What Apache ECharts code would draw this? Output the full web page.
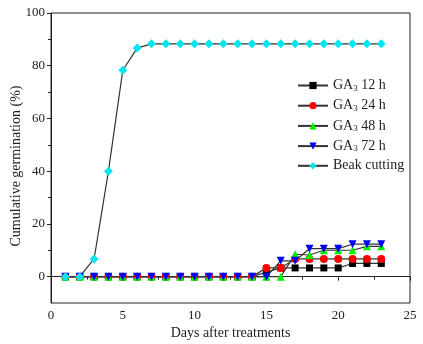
<!DOCTYPE html>
<html><head><meta charset="utf-8">
<script src="https://cdn.jsdelivr.net/npm/echarts@6/dist/echarts.min.js"></script>
<style>html,body{margin:0;padding:0;background:#fff}#c{width:423px;height:344px}</style>
</head><body><div id="c"></div>
<script>
const days = [1,2,3,4,5,6,7,8,9,10,11,12,13,14,15,16,17,18,19,20,21,22,23];
const ga12 = [0,0,0,0,0,0,0,0,0,0,0,0,0,0,1.7,3.3,3.3,3.3,3.3,3.3,5,5,5];
const ga24 = [0,0,0,0,0,0,0,0,0,0,0,0,0,0,3.3,3.3,6.7,6.7,6.7,6.7,6.7,6.7,6.7];
const ga48 = [0,0,0,0,0,0,0,0,0,0,0,0,0,0,0,0,8.5,8.2,10,10,10,11.5,11.5];
const ga72 = [0,0,0,0,0,0,0,0,0,0,0,0,0,0,0,6,6,10.6,10.6,10.6,12.3,12.3,12.3];
const beak = [0,0,6.7,40,78.3,86.7,88.3,88.3,88.3,88.3,88.3,88.3,88.3,88.3,88.3,88.3,88.3,88.3,88.3,88.3,88.3,88.3,88.3];
const seriesNames = ['GA3 12 h','GA3 24 h','GA3 48 h','GA3 72 h','Beak cutting'];
const yMajor = [0,20,40,60,80,100];
const yMinor = [10,30,50,70,90];

const font = 'Liberation Serif';
function pts(arr){ return days.map((d,i)=>[d,arr[i]]); }
function mk(name, arr, symbol, color, size, rotate){
  return {name, type:'line', data:pts(arr), symbol, symbolSize:size, symbolRotate:rotate||0,
    showSymbol:true, lineStyle:{color:'#333', width:1.2}, itemStyle:{color, borderWidth:0},
    emphasis:{disabled:true}, z:2};
}
const chart = echarts.init(document.getElementById('c'), null, {renderer:'canvas'});
chart.setOption({
  animation:false,
  backgroundColor:'#fff',
  grid:{left:51,right:13,top:13,bottom:41,outerBoundsMode:'none',containLabel:false,show:true,borderColor:'#222',borderWidth:1,backgroundColor:'transparent'},
  legend:{
    orient:'vertical', left:297, top:78, padding:0, itemWidth:30, itemHeight:9, itemGap:5.2,
    data:seriesNames,
    formatter:function(n){ if(n.indexOf('GA3')===0){ return 'GA{s|3}' + n.slice(3);} return n; },
    textStyle:{fontFamily:font, fontSize:14, lineHeight:14, color:'#222', rich:{s:{fontFamily:font,fontSize:9,lineHeight:14,color:'#222',padding:[6,0,0,0]}}}
  },
  xAxis:{type:'value', min:0, max:25, interval:5,
    name:'Days after treatments', nameLocation:'middle', nameGap:23, nameMoveOverlap:false,
    nameTextStyle:{fontFamily:font, fontSize:14, color:'#222'},
    axisLine:{lineStyle:{color:'#222'}}, axisTick:{inside:false,length:4,lineStyle:{color:'#222'}},
    minorTick:{show:true,splitNumber:2,length:3,lineStyle:{color:'#222'}},
    axisLabel:{fontFamily:font,fontSize:13,color:'#222',margin:6}, splitLine:{show:false}},
  yAxis:[{type:'value', min:-10, max:100, interval:10,
    name:'Cumulative germination (%)', nameLocation:'middle', nameGap:28, nameMoveOverlap:false,
    nameTextStyle:{fontFamily:font, fontSize:14, color:'#222', padding:[0,0,0,-16]},
    axisLine:{show:true,lineStyle:{color:'#222'}},
    axisTick:{show:true,length:4,customValues:yMajor,lineStyle:{color:'#222'}},
    axisLabel:{fontFamily:font,fontSize:13,color:'#222',margin:6,customValues:yMajor},
    splitLine:{show:false}},
   {type:'value', min:-10, max:100, interval:10, position:'left',
    axisLine:{show:false}, axisTick:{show:true,length:3,customValues:yMinor,lineStyle:{color:'#222'}},
    axisLabel:{show:false}, splitLine:{show:false}}],
  series:[
    mk(seriesNames[0], ga12, 'rect', '#000', 7),
    mk(seriesNames[1], ga24, 'circle', '#ff0000', 8),
    mk(seriesNames[2], ga48, 'triangle', '#00ee00', 8),
    mk(seriesNames[3], ga72, 'triangle', '#0000ff', 8, 180),
    mk(seriesNames[4], beak, 'diamond', '#00e5ee', 9)
  ]
});
</script></body></html>
